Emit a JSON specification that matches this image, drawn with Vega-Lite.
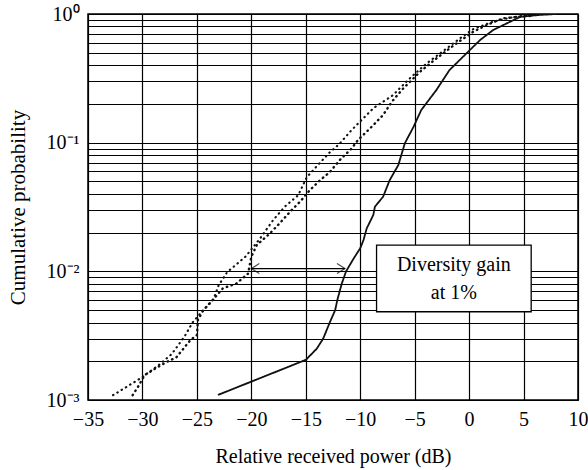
{
  "$schema": "https://vega.github.io/schema/vega-lite/v6.json",
  "width": 490,
  "height": 386,
  "autosize": "none",
  "padding": {"left": 88, "top": 14, "right": 10, "bottom": 70},
  "background": "white",
  "config": {
    "font": "Liberation Serif",
    "view": {"stroke": "#000", "strokeWidth": 1.5},
    "axis": {
      "labelFont": "Liberation Serif",
      "titleFont": "Liberation Serif",
      "labelFontSize": 20,
      "titleFontSize": 20,
      "titleFontWeight": "normal",
      "labelColor": "#000",
      "titleColor": "#000",
      "ticks": false,
      "domain": false,
      "gridColor": "#000",
      "gridOpacity": 1,
      "gridWidth": 1.2
    }
  },
  "datasets": {
    "curves": [
      {"series": "solid", "x": -23.0, "p": 0.0011},
      {"series": "solid", "x": -15.0, "p": 0.00205},
      {"series": "solid", "x": -14.0, "p": 0.0025},
      {"series": "solid", "x": -13.4, "p": 0.003},
      {"series": "solid", "x": -12.8, "p": 0.004},
      {"series": "solid", "x": -12.3, "p": 0.005},
      {"series": "solid", "x": -12.1, "p": 0.006},
      {"series": "solid", "x": -11.7, "p": 0.008},
      {"series": "solid", "x": -11.3, "p": 0.01},
      {"series": "solid", "x": -10.6, "p": 0.0126},
      {"series": "solid", "x": -10.0, "p": 0.0151},
      {"series": "solid", "x": -9.7, "p": 0.0175},
      {"series": "solid", "x": -9.4, "p": 0.0216},
      {"series": "solid", "x": -8.8, "p": 0.0274},
      {"series": "solid", "x": -8.65, "p": 0.0318},
      {"series": "solid", "x": -7.9, "p": 0.038},
      {"series": "solid", "x": -7.3, "p": 0.051},
      {"series": "solid", "x": -6.5, "p": 0.067},
      {"series": "solid", "x": -5.9, "p": 0.099},
      {"series": "solid", "x": -5.1, "p": 0.133},
      {"series": "solid", "x": -4.4, "p": 0.179},
      {"series": "solid", "x": -3.0, "p": 0.257},
      {"series": "solid", "x": -1.8, "p": 0.367},
      {"series": "solid", "x": -0.1, "p": 0.508},
      {"series": "solid", "x": 1.0, "p": 0.627},
      {"series": "solid", "x": 2.2, "p": 0.75},
      {"series": "solid", "x": 3.45, "p": 0.845},
      {"series": "solid", "x": 4.7, "p": 0.95},
      {"series": "solid", "x": 6.2, "p": 0.98},
      {"series": "solid", "x": 8.0, "p": 1.0},
      {"series": "dotA", "x": -32.7, "p": 0.00109},
      {"series": "dotA", "x": -30.2, "p": 0.00147},
      {"series": "dotA", "x": -28.5, "p": 0.00187},
      {"series": "dotA", "x": -27.3, "p": 0.00228},
      {"series": "dotA", "x": -26.15, "p": 0.0031},
      {"series": "dotA", "x": -25.4, "p": 0.004},
      {"series": "dotA", "x": -24.6, "p": 0.0048},
      {"series": "dotA", "x": -23.5, "p": 0.006},
      {"series": "dotA", "x": -23.0, "p": 0.0078},
      {"series": "dotA", "x": -22.2, "p": 0.0099},
      {"series": "dotA", "x": -21.6, "p": 0.0109},
      {"series": "dotA", "x": -20.5, "p": 0.0131},
      {"series": "dotA", "x": -19.2, "p": 0.018},
      {"series": "dotA", "x": -18.0, "p": 0.025},
      {"series": "dotA", "x": -16.9, "p": 0.032},
      {"series": "dotA", "x": -15.7, "p": 0.039},
      {"series": "dotA", "x": -14.9, "p": 0.054},
      {"series": "dotA", "x": -13.75, "p": 0.069},
      {"series": "dotA", "x": -12.8, "p": 0.084},
      {"series": "dotA", "x": -11.9, "p": 0.098},
      {"series": "dotA", "x": -10.8, "p": 0.125},
      {"series": "dotA", "x": -9.7, "p": 0.155},
      {"series": "dotA", "x": -8.8, "p": 0.185},
      {"series": "dotA", "x": -7.0, "p": 0.234},
      {"series": "dotA", "x": -5.3, "p": 0.325},
      {"series": "dotA", "x": -3.9, "p": 0.413},
      {"series": "dotA", "x": -2.06, "p": 0.54},
      {"series": "dotA", "x": -0.84, "p": 0.646},
      {"series": "dotA", "x": 0.38, "p": 0.763},
      {"series": "dotA", "x": 2.2, "p": 0.871},
      {"series": "dotA", "x": 3.75, "p": 0.935},
      {"series": "dotA", "x": 5.0, "p": 0.97},
      {"series": "dotA", "x": 6.5, "p": 0.98},
      {"series": "dotB", "x": -30.9, "p": 0.00109},
      {"series": "dotB", "x": -30.4, "p": 0.00127},
      {"series": "dotB", "x": -29.8, "p": 0.00156},
      {"series": "dotB", "x": -28.8, "p": 0.00176},
      {"series": "dotB", "x": -27.7, "p": 0.00199},
      {"series": "dotB", "x": -26.9, "p": 0.00214},
      {"series": "dotB", "x": -25.6, "p": 0.00292},
      {"series": "dotB", "x": -25.0, "p": 0.0032},
      {"series": "dotB", "x": -24.9, "p": 0.0042},
      {"series": "dotB", "x": -24.4, "p": 0.005},
      {"series": "dotB", "x": -23.5, "p": 0.00605},
      {"series": "dotB", "x": -22.6, "p": 0.0074},
      {"series": "dotB", "x": -21.4, "p": 0.008},
      {"series": "dotB", "x": -20.3, "p": 0.0096},
      {"series": "dotB", "x": -20.0, "p": 0.013},
      {"series": "dotB", "x": -19.5, "p": 0.016},
      {"series": "dotB", "x": -18.3, "p": 0.0197},
      {"series": "dotB", "x": -17.4, "p": 0.0236},
      {"series": "dotB", "x": -16.45, "p": 0.029},
      {"series": "dotB", "x": -15.5, "p": 0.035},
      {"series": "dotB", "x": -14.6, "p": 0.043},
      {"series": "dotB", "x": -13.7, "p": 0.051},
      {"series": "dotB", "x": -12.8, "p": 0.059},
      {"series": "dotB", "x": -11.9, "p": 0.073},
      {"series": "dotB", "x": -10.8, "p": 0.09},
      {"series": "dotB", "x": -10.2, "p": 0.105},
      {"series": "dotB", "x": -9.4, "p": 0.122},
      {"series": "dotB", "x": -8.8, "p": 0.137},
      {"series": "dotB", "x": -7.9, "p": 0.164},
      {"series": "dotB", "x": -7.1, "p": 0.208},
      {"series": "dotB", "x": -6.05, "p": 0.264},
      {"series": "dotB", "x": -4.5, "p": 0.356},
      {"series": "dotB", "x": -3.0, "p": 0.452},
      {"series": "dotB", "x": -1.3, "p": 0.58},
      {"series": "dotB", "x": 0.38, "p": 0.727},
      {"series": "dotB", "x": 1.6, "p": 0.82},
      {"series": "dotB", "x": 3.1, "p": 0.925},
      {"series": "dotB", "x": 4.7, "p": 0.953},
      {"series": "dotB", "x": 5.9, "p": 0.97}
    ],
    "arrow": [{"x1": -20.0, "x2": -11.4, "p": 0.0105}],
    "heads": [
      {"x": -20.0, "p": 0.0105, "shape": "M2,-1.25L0,0L2,1.25"},
      {"x": -11.4, "p": 0.0105, "shape": "M-2,-1.25L0,0L-2,1.25"}
    ],
    "box": [{"x1": -8.5, "x2": 5.7, "p1": 0.00485, "p2": 0.016}],
    "label": [
      {"x": -1.4, "p": 0.0112, "text": "Diversity gain"},
      {"x": -1.4, "p": 0.00675, "text": "at 1%"}
    ]
  },
  "layer": [
    {
      "data": {"name": "curves"},
      "mark": {"type": "line", "clip": true, "strokeCap": "round"},
      "encoding": {
        "x": {
          "field": "x", "type": "quantitative",
          "scale": {"domain": [-35, 10], "nice": false, "zero": false},
          "axis": {
            "values": [-35, -30, -25, -20, -15, -10, -5, 0, 5, 10],
            "title": "Relative received power (dB)",
            "labelPadding": 9,
            "titlePadding": 17,
            "labelFlush": false,
            "labelOverlap": false
          }
        },
        "y": {
          "field": "p", "type": "quantitative",
          "scale": {"type": "log", "domain": [0.001, 1], "nice": false},
          "axis": {
            "values": [0.001, 0.002, 0.003, 0.004, 0.005, 0.006, 0.007, 0.008, 0.009, 0.01, 0.02, 0.03, 0.04, 0.05, 0.06, 0.07, 0.08, 0.09, 0.1, 0.2, 0.3, 0.4, 0.5, 0.6, 0.7, 0.8, 0.9, 1],
            "labelExpr": "datum.value == 1 ? '10⁰' : datum.value == 0.1 ? '10⁻¹' : datum.value == 0.01 ? '10⁻²' : datum.value == 0.001 ? '10⁻³' : ''",
            "title": "Cumulative probability",
            "titleFontSize": 21,
            "labelPadding": 9,
            "titlePadding": 18,
            "labelFlush": false,
            "labelOverlap": false
          }
        },
        "detail": {"field": "series"},
        "strokeDash": {
          "field": "series", "type": "nominal",
          "scale": {"domain": ["solid", "dotA", "dotB"], "range": [[1, 0], [0.5, 4.5], [0.5, 4.5]]},
          "legend": null
        },
        "strokeWidth": {
          "field": "series", "type": "nominal",
          "scale": {"domain": ["solid", "dotA", "dotB"], "range": [1.8, 2.4, 2.4]},
          "legend": null
        },
        "color": {"value": "#111"}
      }
    },
    {
      "data": {"name": "arrow"},
      "mark": {"type": "rule", "color": "#000", "strokeWidth": 1.2},
      "encoding": {
        "x": {"field": "x1", "type": "quantitative"},
        "x2": {"field": "x2"},
        "y": {"field": "p", "type": "quantitative"}
      }
    },
    {
      "data": {"name": "heads"},
      "mark": {"type": "point", "filled": false, "stroke": "#000", "strokeWidth": 1.2, "size": 64},
      "encoding": {
        "x": {"field": "x", "type": "quantitative"},
        "y": {"field": "p", "type": "quantitative"},
        "shape": {"field": "shape", "type": "nominal", "scale": null}
      }
    },
    {
      "data": {"name": "box"},
      "mark": {"type": "rect", "fill": "white", "stroke": "#000", "strokeWidth": 1.3},
      "encoding": {
        "x": {"field": "x1", "type": "quantitative"},
        "x2": {"field": "x2"},
        "y": {"field": "p1", "type": "quantitative"},
        "y2": {"field": "p2"}
      }
    },
    {
      "data": {"name": "label"},
      "mark": {"type": "text", "font": "Liberation Serif", "fontSize": 20, "color": "#000", "align": "center", "baseline": "middle"},
      "encoding": {
        "x": {"field": "x", "type": "quantitative"},
        "y": {"field": "p", "type": "quantitative"},
        "text": {"field": "text"}
      }
    }
  ]
}
